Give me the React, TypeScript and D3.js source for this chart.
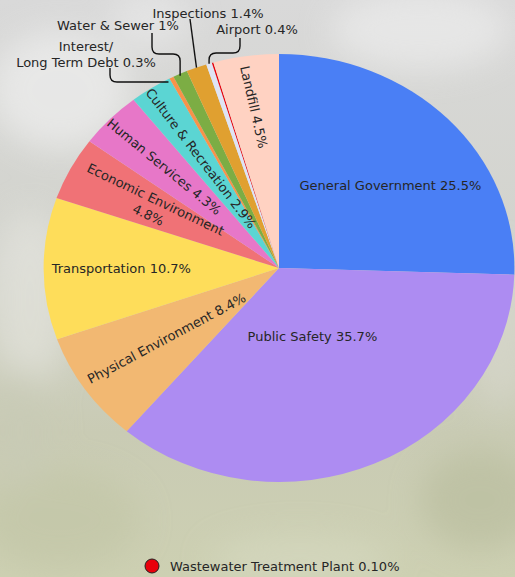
import React, { useMemo } from 'react';
import * as d3 from 'd3';

const categories = [
  'General Government', 'Public Safety', 'Physical Environment', 'Transportation',
  'Economic Environment', 'Human Services', 'Culture & Recreation', 'Interest/Long Term Debt',
  'Water & Sewer', 'Inspections', 'Airport', 'Wastewater Treatment Plant', 'Landfill',
];
const shares = [25.5, 35.7, 8.4, 10.7, 4.8, 4.3, 2.9, 0.3, 1, 1.4, 0.4, 0.1, 4.5];
const colors = [
  '#4a7ff5', '#ad8cf2', '#f2b872', '#fedd5a', '#f07276', '#e777c8', '#5bd5d3',
  '#f8924a', '#7cad44', '#e0a030', '#dfe4f4', '#e8000b', '#ffd2c2',
];
const labelLines: string[][] = [
  ['General Government 25.5%'], ['Public Safety 35.7%'], ['Physical Environment 8.4%'],
  ['Transportation 10.7%'], ['Economic Environment', '4.8%'], ['Human Services 4.3%'],
  ['Culture & Recreation 2.9%'], ['Interest/', 'Long Term Debt 0.3%'], ['Water & Sewer 1%'],
  ['Inspections 1.4%'], ['Airport 0.4%'], [], ['Landfill 4.5%'],
];
const legendText = 'Wastewater Treatment Plant 0.10%';

const W = 515;
const H = 577;
const cx = 279;
const cy = 268;
const ry = 214;
const sx = 1.1; // the picture is stretched sideways
const font = "'DejaVu Sans', sans-serif";
const fs = 13;

// inner labels: slice index, radius fraction, angle shift (deg), radial rotation, extra turn
const inner = [
  { i: 0, r: 0.61, da: 5, rot: false, dr: 0 },
  { i: 1, r: 0.35, da: 0, rot: false, dr: 0 },
  { i: 2, r: 0.58, da: 0, rot: true, dr: 4 },
  { i: 3, r: 0.67, da: 0, rot: false, dr: 0 },
  { i: 4, r: 0.61, da: 0, rot: true, dr: 0 },
  { i: 5, r: 0.68, da: 0, rot: true, dr: -2 },
  { i: 6, r: 0.61, da: 0, rot: true, dr: -2 },
  { i: 12, r: 0.76, da: 0, rot: true, dr: -4 },
];

const blobs = [
  [60, 90, 70, 60, '#f3f3f3'], [420, 30, 90, 40, '#f0f0f0'], [30, 300, 40, 90, '#e6e6e0'],
  [480, 500, 60, 50, '#b7bb9b'], [60, 520, 80, 50, '#c1c5a5'], [150, 20, 40, 30, '#ebebeb'],
  [500, 330, 30, 80, '#d8d8cc'], [20, 430, 30, 60, '#c8cab6'], [300, 560, 90, 25, '#d7dac2'],
];

const App: React.FC = () => {
  const arcs = useMemo(() => d3.pie<number>().sort(null).value(d => d)(shares), []);
  const arc = d3.arc<d3.PieArcDatum<number>>().innerRadius(0).outerRadius(ry);

  const mid = (i: number) => (arcs[i].startAngle + arcs[i].endAngle) / 2;
  const pt = (a: number, f: number): [number, number] => [
    cx + sx * ry * f * Math.sin(a),
    cy - ry * f * Math.cos(a),
  ];

  // leader lines for the thin slices
  const [ix] = pt(mid(7), 1);
  const [wx, wy] = pt(mid(8), 1);
  const [nx, ny] = pt(mid(9), 1);
  const [ax, ay] = pt(mid(10), 1);
  const leaders = [
    `M110,68 V75 Q110,82 117,82 H${ix - 3}`,
    `M152,33 V47 Q152,54 159,54 H${wx - 7} Q${wx},54 ${wx},61 V${wy + 2}`,
    `M190,19 L${nx},${ny}`,
    `M240,38 V46 Q240,53 233,53 H${ax + 7} Q${ax},53 ${ax},60 V${ay}`,
  ];

  return (
    <svg width={W} height={H} style={{ position: 'absolute', left: 0, top: 0, display: 'block' }}>
      <defs>
        <linearGradient id="bg" x1="0" y1="0" x2="0" y2="1">
          <stop offset="0" stopColor="#d9d9d9" />
          <stop offset="0.45" stopColor="#d2d3cc" />
          <stop offset="0.75" stopColor="#c9cbb4" />
          <stop offset="1" stopColor="#cdd0b2" />
        </linearGradient>
        <filter id="blur"><feGaussianBlur stdDeviation="16" /></filter>
      </defs>
      <rect width={W} height={H} fill="url(#bg)" />
      <g filter="url(#blur)" opacity={0.6}>
        {blobs.map(([x, y, rx, rr, c], k) => (
          <ellipse key={k} cx={x as number} cy={y as number} rx={rx as number} ry={rr as number} fill={c as string} />
        ))}
      </g>

      <g transform={`translate(${cx},${cy}) scale(${sx},1)`}>
        {arcs.map((d, i) => (
          <path key={categories[i]} d={arc(d) || ''} fill={colors[i]} />
        ))}
      </g>

      <g fontFamily={font} fontSize={fs} fill="#262626">
        {inner.map(({ i, r, da, rot, dr }) => {
          const a = mid(i);
          const [x, y] = pt(a + (da * Math.PI) / 180, r);
          const deg = rot ? (Math.atan2(Math.cos(a), -sx * Math.sin(a)) * 180) / Math.PI + dr : 0;
          const lines = labelLines[i];
          const lh = 17;
          return (
            <g key={categories[i]} transform={`translate(${x},${y}) rotate(${deg})`}>
              {lines.map((t, k) => (
                <text key={t} x={0} y={(k - (lines.length - 1) / 2) * lh} textAnchor="middle" dominantBaseline="central">
                  {t}
                </text>
              ))}
            </g>
          );
        })}

        <text x={86} y={46} textAnchor="middle" dominantBaseline="central">{labelLines[7][0]}</text>
        <text x={86} y={62} textAnchor="middle" dominantBaseline="central">{labelLines[7][1]}</text>
        <text x={118} y={25} textAnchor="middle" dominantBaseline="central">{labelLines[8][0]}</text>
        <text x={208} y={13} textAnchor="middle" dominantBaseline="central">{labelLines[9][0]}</text>
        <text x={257} y={29} textAnchor="middle" dominantBaseline="central">{labelLines[10][0]}</text>
      </g>

      <g fill="none" stroke="#111" strokeWidth={1.4}>
        {leaders.map(p => <path key={p} d={p} />)}
      </g>

      <circle cx={152} cy={566} r={7} fill={colors[11]} stroke="#222" strokeWidth={1} />
      <text x={170} y={566} fontFamily={font} fontSize={fs} fill="#262626" dominantBaseline="central">
        {legendText}
      </text>
    </svg>
  );
};

export default App;
